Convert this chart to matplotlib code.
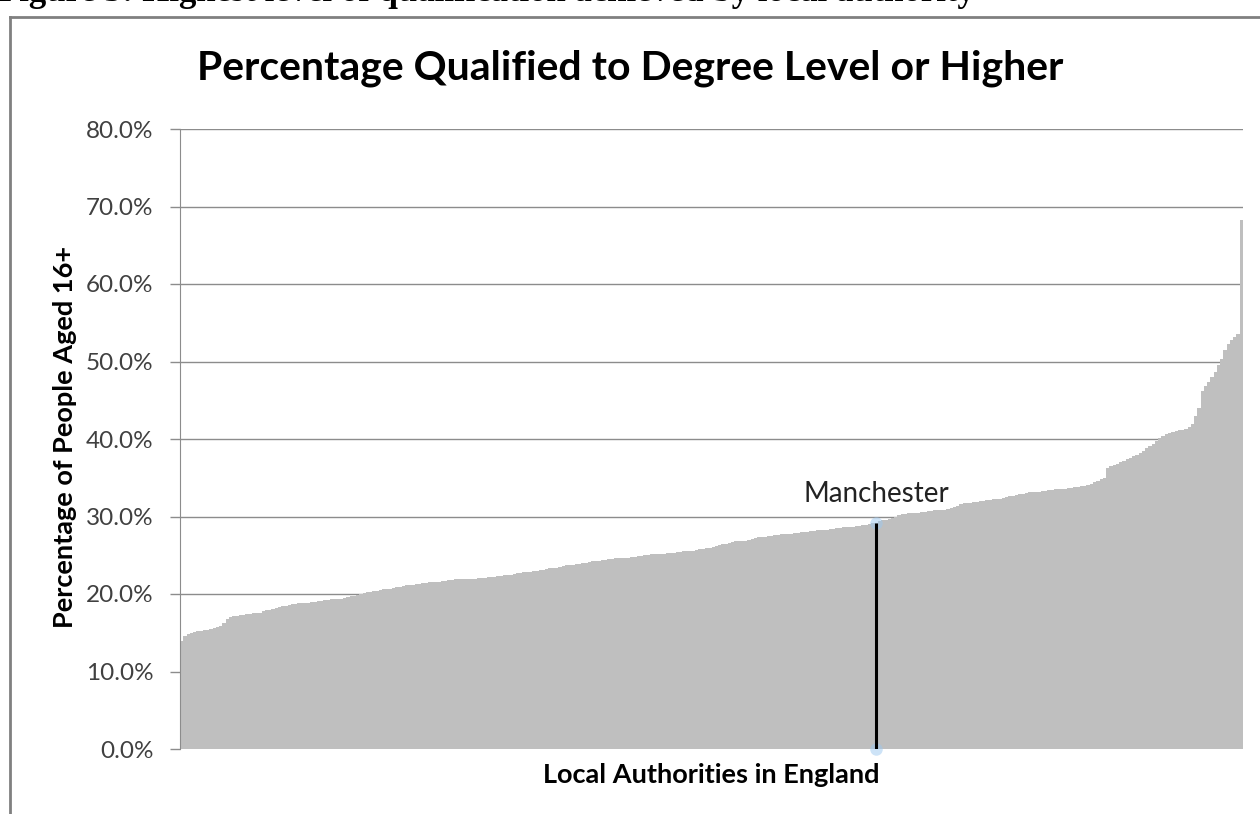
import matplotlib.pyplot as plt
from matplotlib.lines import Line2D
from matplotlib.ticker import FuncFormatter

# ===================== data =====================
# share of people aged 16+ qualified to degree level, one value per local authority, sorted
degree_pct = [
    14.0, 14.6, 14.9, 15.0, 15.1, 15.2, 15.2, 15.3, 15.4, 15.5,
    15.6, 15.7, 15.9, 16.3, 16.8, 17.0, 17.1, 17.2, 17.3, 17.3,
    17.4, 17.4, 17.5, 17.5, 17.6, 17.8, 17.9, 18.0, 18.1, 18.2,
    18.3, 18.4, 18.5, 18.6, 18.7, 18.7, 18.8, 18.8, 18.9, 18.9,
    19.0, 19.0, 19.1, 19.1, 19.2, 19.2, 19.3, 19.3, 19.4, 19.4,
    19.5, 19.6, 19.7, 19.8, 19.9, 20.0, 20.1, 20.2, 20.3, 20.4,
    20.4, 20.5, 20.6, 20.6, 20.7, 20.8, 20.9, 20.9, 21.0, 21.1,
    21.1, 21.2, 21.3, 21.3, 21.4, 21.4, 21.5, 21.5, 21.6, 21.6,
    21.7, 21.7, 21.8, 21.8, 21.9, 21.9, 21.9, 22.0, 22.0, 22.0,
    22.0, 22.1, 22.1, 22.1, 22.2, 22.2, 22.2, 22.3, 22.3, 22.4,
    22.4, 22.5, 22.6, 22.7, 22.7, 22.8, 22.8, 22.9, 23.0, 23.0,
    23.1, 23.1, 23.2, 23.3, 23.4, 23.4, 23.5, 23.6, 23.7, 23.8,
    23.8, 23.9, 23.9, 24.0, 24.0, 24.1, 24.2, 24.3, 24.3, 24.4,
    24.4, 24.5, 24.5, 24.6, 24.6, 24.6, 24.7, 24.7, 24.8, 24.8,
    24.9, 24.9, 25.0, 25.0, 25.1, 25.1, 25.1, 25.2, 25.2, 25.3,
    25.3, 25.3, 25.4, 25.4, 25.5, 25.5, 25.6, 25.6, 25.7, 25.8,
    25.8, 25.9, 26.0, 26.1, 26.2, 26.3, 26.4, 26.5, 26.6, 26.7,
    26.8, 26.8, 26.9, 26.9, 27.0, 27.1, 27.2, 27.3, 27.4, 27.4,
    27.5, 27.5, 27.6, 27.6, 27.7, 27.7, 27.8, 27.8, 27.9, 27.9,
    28.0, 28.0, 28.0, 28.1, 28.1, 28.2, 28.2, 28.3, 28.3, 28.4,
    28.4, 28.5, 28.5, 28.6, 28.6, 28.7, 28.7, 28.8, 28.8, 28.9,
    28.9, 29.0, 29.1, 29.2, 29.4, 29.5, 29.6, 29.7, 29.8, 29.9,
    30.2, 30.3, 30.3, 30.4, 30.4, 30.5, 30.5, 30.6, 30.6, 30.7,
    30.7, 30.8, 30.8, 30.9, 30.9, 31.0, 31.1, 31.2, 31.4, 31.6,
    31.7, 31.8, 31.8, 31.9, 31.9, 32.0, 32.0, 32.1, 32.1, 32.2,
    32.2, 32.3, 32.4, 32.5, 32.6, 32.7, 32.8, 32.9, 32.9, 33.0,
    33.1, 33.1, 33.2, 33.2, 33.3, 33.3, 33.4, 33.4, 33.5, 33.5,
    33.6, 33.6, 33.7, 33.7, 33.8, 33.8, 33.9, 34.0, 34.1, 34.2,
    34.4, 34.6, 34.8, 35.0, 36.2, 36.5, 36.6, 36.8, 37.0, 37.2,
    37.4, 37.6, 37.8, 38.0, 38.2, 38.5, 38.8, 39.1, 39.4, 39.8,
    40.1, 40.4, 40.6, 40.8, 40.9, 41.0, 41.1, 41.2, 41.3, 41.5,
    42.0, 43.0, 44.0, 46.2, 46.8, 47.4, 48.0, 48.7, 49.5, 50.3,
    51.5, 52.3, 52.8, 53.2, 53.6, 68.2,
]
highlight_name = "Manchester"
highlight_index = 213
y_ticks = [0, 10, 20, 30, 40, 50, 60, 70, 80]
# ================================================

plt.rcParams["font.family"] = ["Lato", "DejaVu Sans"]

fig = plt.figure(figsize=(12.6, 8.14), dpi=100)
ax = fig.add_axes([180 / 1260, 1 - 749 / 814, 1063 / 1260, 620 / 814])

positions = list(range(len(degree_pct)))
ax.bar(positions, degree_pct, width=1.0, color="#bfbfbf", linewidth=0, zorder=2)

# manchester marker line with the little blue glow at each end
hv = degree_pct[highlight_index]
ax.plot([highlight_index, highlight_index], [0, hv], color="black", lw=2.2, zorder=4,
        solid_capstyle="butt")
ax.plot([highlight_index, highlight_index], [0, hv], ls="none", marker="o", ms=9,
        color="#9cc8f0", alpha=0.5, markeredgewidth=0, zorder=3, clip_on=False)
ax.annotate(highlight_name, xy=(highlight_index, hv), xytext=(0, 21),
            textcoords="offset points", ha="center", va="center",
            fontsize=20, color="#222222", zorder=5)

ax.set_xlim(-0.5, len(degree_pct) - 0.5)
ax.set_ylim(0, 80)
ax.set_yticks(y_ticks)
ax.yaxis.set_major_formatter(FuncFormatter(lambda v, p: f"{v:.1f}%"))
ax.set_xticks([])
ax.grid(axis="y", color="#8c8c8c", lw=1, zorder=1)
ax.set_axisbelow(True)
for s in ["top", "right", "bottom"]:
    ax.spines[s].set_visible(False)
ax.spines["left"].set_color("#8c8c8c")
ax.tick_params(axis="y", length=7.2, width=1, color="#8c8c8c", labelsize=17.5,
               labelcolor="#404040", pad=12)

fig.text(65 / 1260, 1 - 437 / 814, "Percentage of People Aged 16+", rotation=90,
         ha="center", va="center", fontsize=19.5, fontweight="bold")
fig.text(711 / 1260, 1 - 775 / 814, "Local Authorities in England",
         ha="center", va="center", fontsize=19.5, fontweight="bold")

fig.text(630 / 1260, 1 - 68 / 814, "Percentage Qualified to Degree Level or Higher",
         ha="center", va="center", fontsize=29.5, fontweight="bold", color="black")

# cut-off document caption above the chart frame
fig.text(-2 / 1260, 1 - 1 / 814,
         "Figure 3: Highest level of qualification achieved by local authority",
         ha="left", va="baseline", fontsize=25, fontweight="bold",
         family=["Liberation Serif", "DejaVu Serif"])

# chart frame (left and top edges visible)
fig.add_artist(Line2D([10 / 1260, 10 / 1260], [0, 1 - 17 / 814], color="#808080", lw=2,
                      transform=fig.transFigure))
fig.add_artist(Line2D([10 / 1260, 1], [1 - 17 / 814, 1 - 17 / 814], color="#808080", lw=2,
                      transform=fig.transFigure))

plt.savefig("out.png", dpi=100)
plt.close()
